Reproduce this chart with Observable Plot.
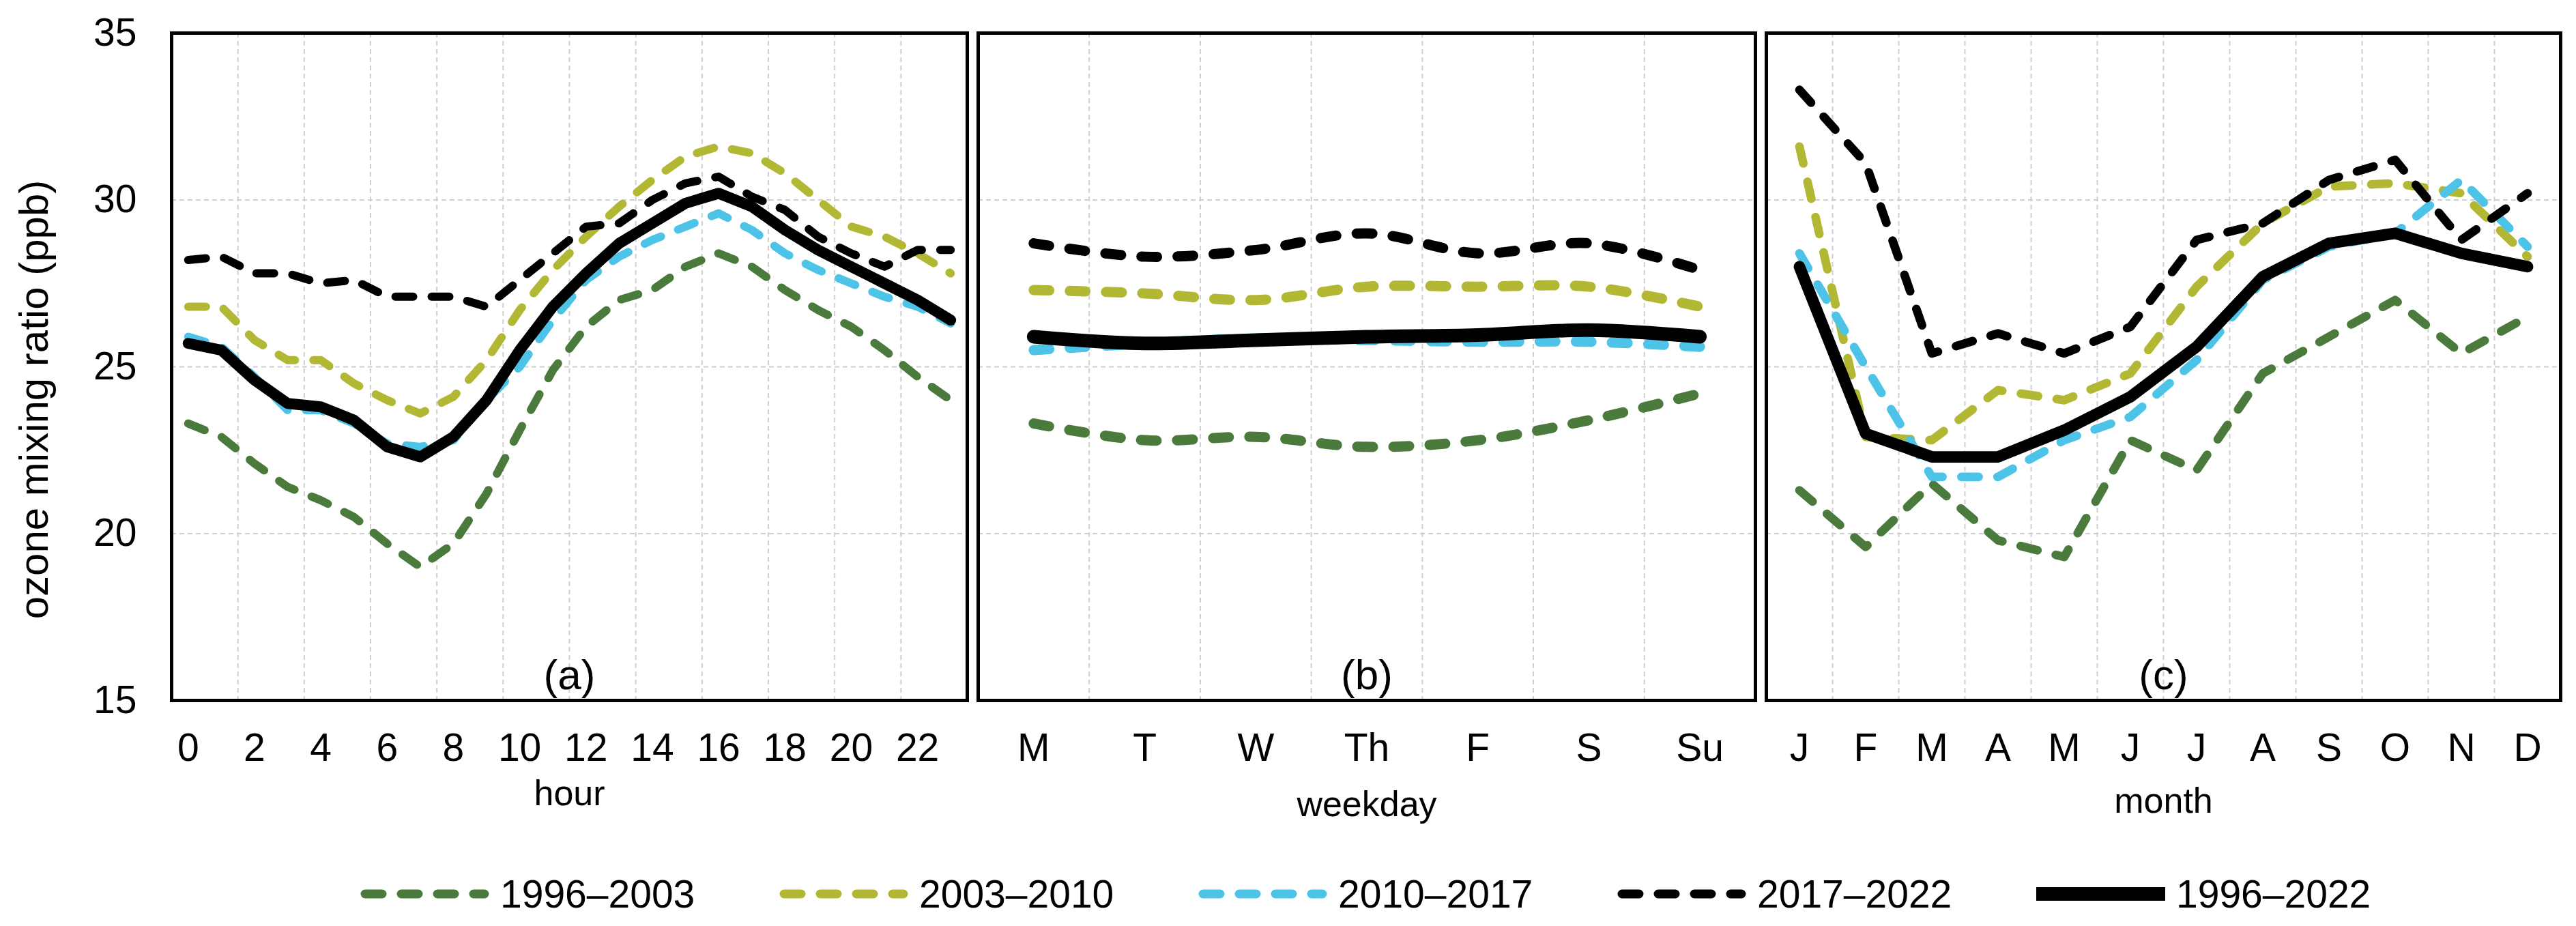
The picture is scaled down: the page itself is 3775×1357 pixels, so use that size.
<!DOCTYPE html>
<html><head><meta charset="utf-8">
<script src="https://cdn.jsdelivr.net/npm/d3@7"></script>
<script src="https://cdn.jsdelivr.net/npm/@observablehq/plot@0.6"></script>
<style>
html,body{margin:0;padding:0;background:#fff;}
#chart{position:relative;width:3775px;height:1357px;background:#fff;font-family:"Liberation Sans",Arial,sans-serif;overflow:hidden;}
.panel{position:absolute;top:0;}
#legend{position:absolute;left:528px;top:1270px;display:flex;}
.item{width:614px;display:flex;align-items:center;height:80px;}
.item span{font-size:57px;margin-left:16px;color:#000;white-space:nowrap;}
</style></head><body><div id="chart"></div>
<script>
// ---- data ----
const seriesNames = ["1996–2003", "2003–2010", "2010–2017", "2017–2022", "1996–2022"];

const hourLabels = ["0","1","2","3","4","5","6","7","8","9","10","11","12","13","14","15","16","17","18","19","20","21","22","23"];
const weekdayLabels = ["M","T","W","Th","F","S","Su"];
const monthLabels = ["J","F","M","A","M","J","J","A","S","O","N","D"];
const yTicks = [15, 20, 25, 30, 35];

const hourly_1996_2003 = [23.3,22.9,22.1,21.4,21.0,20.5,19.7,19.0,19.7,21.2,23.1,24.9,26.2,27.0,27.3,28.0,28.4,28.0,27.3,26.7,26.2,25.5,24.7,24.0];
const hourly_2003_2010 = [26.8,26.8,25.8,25.2,25.2,24.5,24.0,23.6,24.1,25.2,26.7,27.9,28.9,29.8,30.6,31.3,31.6,31.4,30.8,30.0,29.2,28.9,28.4,27.8];
const hourly_2010_2017 = [25.9,25.6,24.7,23.7,23.7,23.3,22.7,22.6,22.8,24.0,25.0,26.4,27.6,28.3,28.8,29.2,29.6,29.1,28.4,27.9,27.5,27.1,26.8,26.3];
const hourly_2017_2022 = [28.2,28.3,27.8,27.8,27.5,27.6,27.1,27.1,27.1,26.8,27.6,28.4,29.2,29.3,30.0,30.5,30.7,30.1,29.7,28.9,28.4,28.0,28.5,28.5];
const hourly_1996_2022 = [25.7,25.5,24.6,23.9,23.8,23.4,22.6,22.3,22.9,24.0,25.5,26.8,27.8,28.7,29.3,29.9,30.2,29.8,29.1,28.5,28.0,27.5,27.0,26.4];

const weekly_1996_2003 = [23.3,22.8,22.9,22.6,22.8,23.4,24.2];
const weekly_2003_2010 = [27.3,27.2,27.0,27.4,27.4,27.4,26.8];
const weekly_2010_2017 = [25.5,25.7,25.85,25.8,25.75,25.75,25.6];
const weekly_2017_2022 = [28.7,28.3,28.5,29.0,28.4,28.7,27.9];
const weekly_1996_2022 = [25.9,25.7,25.8,25.9,25.95,26.1,25.9];

const monthly_1996_2003 = [21.3,19.6,21.5,19.8,19.3,22.8,21.9,24.8,25.9,27.0,25.4,26.5];
const monthly_2003_2010 = [31.6,22.9,22.8,24.3,24.0,24.8,27.4,29.3,30.4,30.5,30.2,28.3];
const monthly_2010_2017 = [28.4,25.0,21.7,21.7,22.8,23.5,25.2,27.6,28.6,29.0,30.6,28.6];
const monthly_2017_2022 = [33.3,31.1,25.4,26.0,25.4,26.2,28.8,29.3,30.6,31.2,28.8,30.2];
const monthly_1996_2022 = [28.0,23.0,22.3,22.3,23.1,24.1,25.6,27.7,28.7,29.0,28.4,28.0];

// ---- styles ----
const styles = {
  "1996–2003": {stroke: "#4b7a3d", dashed: true, width: 12},
  "2003–2010": {stroke: "#b3b834", dashed: true, width: 12},
  "2010–2017": {stroke: "#4ec3e8", dashed: true, width: 12},
  "2017–2022": {stroke: "#000000", dashed: true, width: 12},
  "1996–2022": {stroke: "#000000", dashed: false, width: 16}
};
// dash pattern: visible dash ~38px, visible gap ~15px with round caps
function dashFor(w) { return `${38 - w},${15 + w}`; }
const FONT = '"Liberation Sans", Arial, sans-serif';
const SVG_H = 1240, FRAME_TOP = 48, FRAME_BOTTOM = 1026;

function tidy(labels, arrays) {
  const rows = [];
  seriesNames.forEach((s, k) => arrays[k].forEach((v, i) => rows.push({series: s, i, label: labels[i], value: v})));
  return rows;
}

function panel({labels, arrays, title, tag, width, left, marginLeft, marginRight, tickStep, gridStep, showY, curve, titleDy, lineScale}) {
  const n = labels.length;
  const rows = tidy(labels, arrays);
  const tickIdx = d3.range(0, n, tickStep);
  const gridPos = d3.range(gridStep, n, gridStep).map(k => k - 0.5);
  const gridStyle = {stroke: "#cfcfcf", strokeOpacity: 1, strokeWidth: 2, strokeDasharray: "7,5"};
  const marks = [
    Plot.gridX(gridPos, gridStyle),
    Plot.gridY([20, 25, 30], gridStyle),
    ...seriesNames.map(s => {
      const w = styles[s].width * lineScale;
      return Plot.line(rows.filter(r => r.series === s), {
        x: "i", y: "value", stroke: styles[s].stroke, strokeWidth: w,
        strokeDasharray: styles[s].dashed ? dashFor(w) : undefined,
        strokeLinecap: "round", strokeLinejoin: "round", curve
      });
    }),
    Plot.axisX(tickIdx, {tickSize: 0, tickPadding: 48, fontSize: 57, tickFormat: i => labels[i], label: null}),
    Plot.text([tag], {frameAnchor: "bottom", dy: -36, fontSize: 62, lineAnchor: "middle", textAnchor: "middle"}),
    Plot.text([title], {frameAnchor: "bottom", dy: titleDy, fontSize: 52, lineAnchor: "middle", textAnchor: "middle"}),
    Plot.frame({stroke: "#000", strokeWidth: 5})
  ];
  if (showY) {
    marks.push(Plot.axisY(yTicks, {tickSize: 0, tickPadding: 51, fontSize: 57, label: null}));
    marks.push(Plot.text(["ozone mixing ratio (ppb)"], {frameAnchor: "left", rotate: -90, dx: -201, dy: 48, fontSize: 60, lineAnchor: "middle", textAnchor: "middle"}));
  }
  const svg = Plot.plot({
    width, height: SVG_H,
    marginTop: FRAME_TOP, marginBottom: SVG_H - FRAME_BOTTOM,
    marginLeft, marginRight,
    x: {domain: [-0.5, n - 0.5]},
    y: {domain: [15, 35], axis: showY ? undefined : null},
    style: {fontFamily: FONT, background: "transparent", color: "#000", overflow: "visible"},
    marks
  });
  svg.classList.add("panel");
  svg.style.left = left + "px";
  return svg;
}

const chart = document.getElementById("chart");
chart.appendChild(panel({
  labels: hourLabels,
  arrays: [hourly_1996_2003, hourly_2003_2010, hourly_2010_2017, hourly_2017_2022, hourly_1996_2022],
  title: "hour", tag: "(a)", width: 1425, left: 0, marginLeft: 251, marginRight: 8,
  tickStep: 2, gridStep: 2, showY: true, curve: "linear", titleDy: 137, lineScale: 1
}));
chart.appendChild(panel({
  labels: weekdayLabels,
  arrays: [weekly_1996_2003, weekly_2003_2010, weekly_2010_2017, weekly_2017_2022, weekly_1996_2022],
  title: "weekday", tag: "(b)", width: 1155, left: 1425, marginLeft: 8, marginRight: 8,
  tickStep: 1, gridStep: 1, showY: false, curve: "catmull-rom", titleDy: 153, lineScale: 1.25
}));
chart.appendChild(panel({
  labels: monthLabels,
  arrays: [monthly_1996_2003, monthly_2003_2010, monthly_2010_2017, monthly_2017_2022, monthly_1996_2022],
  title: "month", tag: "(c)", width: 1195, left: 2580, marginLeft: 8, marginRight: 23,
  tickStep: 1, gridStep: 1, showY: false, curve: "linear", titleDy: 148, lineScale: 1.05
}));

// ---- legend ----
const legend = d3.select(chart).append("div").attr("id", "legend");
seriesNames.forEach(s => {
  const item = legend.append("div").attr("class", "item");
  const sv = item.append("svg").attr("width", 189).attr("height", 40);
  const w = styles[s].dashed ? 13 : 20;
  sv.append("line").attr("x1", styles[s].dashed ? 7 : 0).attr("x2", styles[s].dashed ? 182 : 189).attr("y1", 20).attr("y2", 20)
    .attr("stroke", styles[s].stroke).attr("stroke-width", w)
    .attr("stroke-dasharray", styles[s].dashed ? dashFor(w) : null)
    .attr("stroke-linecap", styles[s].dashed ? "round" : "butt");
  item.append("span").text(s);
});
</script></body></html>
